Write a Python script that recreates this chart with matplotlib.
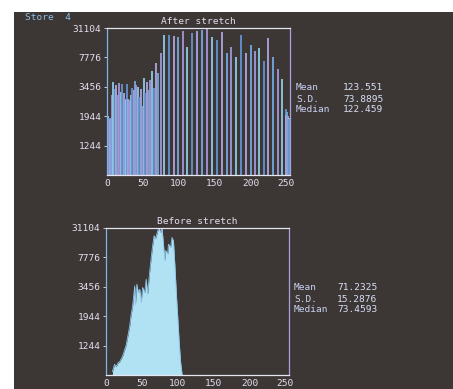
import numpy as np
import matplotlib
matplotlib.use("Agg")
import matplotlib.pyplot as plt
from matplotlib.patches import Rectangle

# ---------------- data ----------------
Y_TOP = 31104
y_ticks = [1244, 1944, 3456, 7776, 31104]
x_ticks = [0, 50, 100, 150, 200, 250]

after_levels = [0, 1, 2, 3, 4, 5, 7, 9, 11, 13, 15, 17, 19, 21, 23, 25, 26, 27, 28, 29,
                30, 31, 33, 35, 37, 39, 41, 43, 45, 47, 48, 49, 51, 53, 56, 58, 60, 63, 65,
                68, 71, 75, 80, 87, 94, 99, 106, 112, 119, 126, 132, 139, 146, 153, 160,
                167, 173, 180, 187, 194, 200, 206, 212, 219, 225, 232, 238, 244, 249, 250,
                251, 252, 253, 254]
after_counts = [1900, 1900, 1950, 1900, 1850, 1900, 2900, 3900, 3300, 3600, 2900, 3800,
                3100, 3700, 3000, 2600, 2650, 2600, 3700, 2650, 2600, 2550, 2900, 3400,
                3200, 4000, 3600, 3450, 2800, 3300, 2400, 2350, 4300, 3000, 3900, 3200,
                4100, 5100, 3400, 6500, 4800, 9000, 20200, 20200, 19500, 18400, 25700,
                11700, 23000, 25500, 26500, 31000, 18400, 15600, 24500, 9000, 11500, 8000,
                20000, 9000, 12500, 9800, 11000, 7000, 17000, 7800, 5400, 4200, 2200, 2000,
                2100, 1950, 1900, 1850]

before_levels = [9, 12, 14, 17, 19, 23, 28, 33, 35, 37, 40, 41, 43, 45, 47, 49, 51, 54,
                 56, 58, 61, 63, 65, 67, 69, 72, 74, 76, 78, 79, 82, 83, 86, 87, 90, 92,
                 94, 96, 98, 100, 102, 104, 106]
before_counts = [900, 980, 950, 1000, 1010, 1080, 1250, 1650, 2000, 2300, 3530, 2400, 3670,
                 3040, 3270, 2500, 3410, 3040, 4140, 2950, 5180, 7776, 12150, 19600, 16600,
                 25700, 31104, 23000, 31104, 19600, 7000, 9930, 8800, 12950, 11300, 17850,
                 15000, 6000, 3000, 1900, 1300, 1000, 870]

after_stats = [("Mean", "123.551"), ("S.D.", "73.8895"), ("Median", "122.459")]
before_stats = [("Mean", "71.2325"), ("S.D.", "15.2876"), ("Median", "73.4593")]

# ---------------- style ----------------
BG = "#3c3635"
MONO = "DejaVu Sans Mono"
FS = 6.8
TXT = "#e4e0ee"
LBLUE = "#8fbde6"

def fwd(v):
    v = np.maximum(np.asarray(v, dtype=float), 1e-9)
    return 6 - np.sqrt(Y_TOP / v)

def inv(p):
    p = np.minimum(np.asarray(p, dtype=float), 5.999)
    return Y_TOP / (6 - p) ** 2

Y_FLOOR = inv(0.0)

W, H = 453, 389
fig = plt.figure(figsize=(W / 100, H / 100), dpi=100, facecolor="white")
fig.patches.append(Rectangle((14 / W, 0), 1, 1 - 12 / H, transform=fig.transFigure,
                             facecolor=BG, edgecolor="none", zorder=-5))

def make_axes(left_px, top_px, title):
    ax = fig.add_axes([left_px / W, 1 - (top_px + 147) / H, 183 / W, 147 / H])
    ax.set_facecolor("none")
    ax.set_yscale("function", functions=(fwd, inv))
    ax.set_ylim(Y_FLOOR, Y_TOP)
    ax.set_xlim(0, 255)
    ax.set_yticks(y_ticks)
    ax.set_yticklabels([str(t) for t in y_ticks])
    ax.set_xticks(x_ticks)
    ax.set_xticklabels([str(t) for t in x_ticks])
    ax.minorticks_off()
    ax.tick_params(axis="both", colors=TXT, labelsize=FS, length=2, width=0.6, pad=2)
    ax.tick_params(axis="x", length=0, pad=3)
    for lab in ax.get_xticklabels() + ax.get_yticklabels():
        lab.set_family(MONO)
    ax.spines["left"].set_color("#7fb4e6")
    ax.spines["top"].set_color("#e6e6f2")
    ax.spines["right"].set_color("#a9a0e0")
    ax.spines["bottom"].set_color("#e6e6f2")
    for s in ax.spines.values():
        s.set_linewidth(0.9)
    ax.set_title(title, color=TXT, fontsize=FS, family=MONO, pad=3)
    return ax

# After stretch
ax1 = make_axes(107, 28, "After stretch")
palette = ["#74aade", "#a596d8", "#8ccbe8", "#6494d2", "#b0a4e0"]
colors = [palette[i % len(palette)] for i in range(len(after_levels))]
ax1.vlines(after_levels, Y_FLOOR, after_counts, colors=colors, linewidth=1.3)

# Before stretch
ax2 = make_axes(106, 228, "Before stretch")
ax2.fill_between(before_levels, Y_FLOOR, before_counts, color="#b0e2f4", linewidth=0)
ax2.plot(before_levels, before_counts, color="#8cc6ea", linewidth=0.6)

# stats text
def stats(x_lab, x_val, y0, rows):
    for i, (k, v) in enumerate(rows):
        y = 1 - (y0 + i * 11) / H
        fig.text(x_lab / W, y, k, color="#c9d3f2", fontsize=FS, family=MONO, va="center")
        fig.text(x_val / W, y, v, color="#d8e0f6", fontsize=FS, family=MONO, va="center")

stats(296, 343, 88, after_stats)
stats(294, 337, 288, before_stats)

fig.text(25 / W, 1 - 18 / H, "Store  4", color=LBLUE, fontsize=FS, family=MONO, va="center")

fig.savefig("out.png", dpi=100, facecolor=fig.get_facecolor())
